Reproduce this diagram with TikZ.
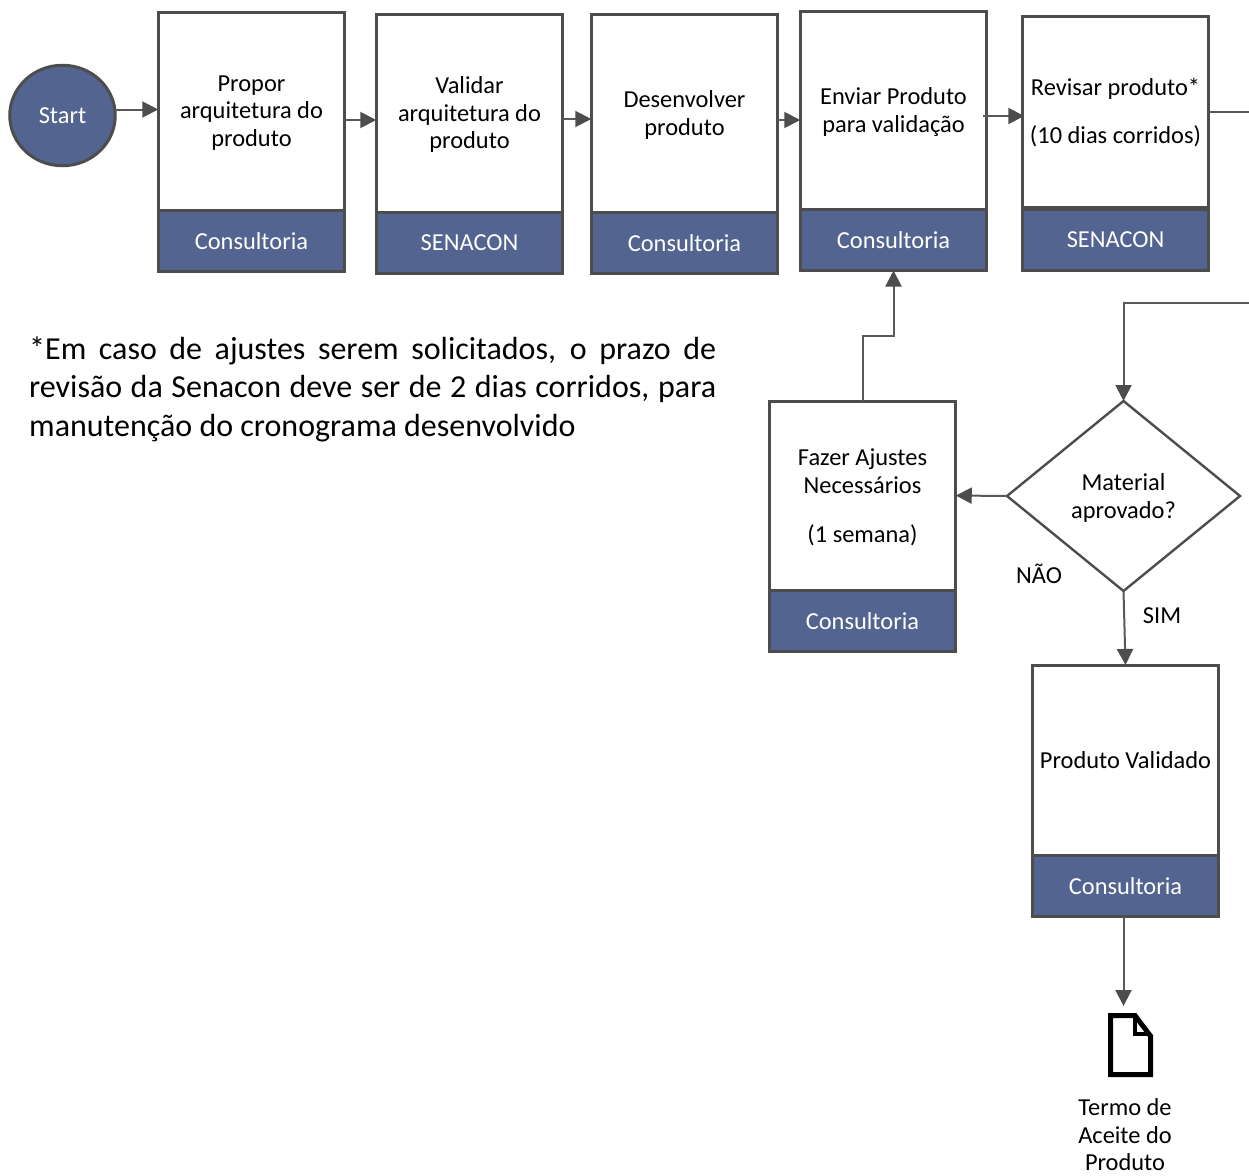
\documentclass[tikz,border=0pt]{standalone}
\usepackage{fontspec}
\setmainfont{Carlito}
\usetikzlibrary{shapes.geometric}
\usetikzlibrary{arrows.meta}
\usetikzlibrary{calc}
\definecolor{boxblue}{HTML}{546490}
\definecolor{boxline}{HTML}{4D4D4D}
\definecolor{connline}{HTML}{595959}
\tikzset{
  basefont/.style={font=\fontsize{24.4}{27.5}\selectfont},
  taskbox/.style={draw=boxline, line width=3pt, fill=white, minimum width=186.5pt, align=center, inner sep=0pt, outer sep=0pt, text depth=0pt, basefont},
  ownerbox/.style={draw=boxline, line width=3pt, fill=boxblue, text=white, minimum width=186.5pt, minimum height=61pt, inner sep=0pt, outer sep=0pt, basefont},
  conn/.style={draw=connline, line width=2pt, -{Triangle[length=16pt,width=16pt,color=boxline]}},
  plainconn/.style={draw=connline, line width=2pt},
  plain/.style={basefont, align=center, inner sep=0pt}
}
\begin{document}
\begin{tikzpicture}[x=1pt, y=-1pt]
    \useasboundingbox (0,0) rectangle (1249,1175);

    \node[ellipse, draw=boxline, line width=3pt, fill=boxblue, text=white, minimum width=105.5pt, minimum height=100.5pt, inner sep=0pt, outer sep=0pt, basefont] (start) at (62.5,115.5) {Start};

    % Top row
    \node[taskbox, minimum height=198pt] (propor) at (251.5,111) {Propor\\arquitetura do\\produto};
    \node[ownerbox] (proporowner) at (251.5,241) {Consultoria};
    \node[taskbox, minimum height=198pt] (validar) at (469.5,113) {Validar\\arquitetura do\\produto};
    \node[ownerbox] (validarowner) at (469.5,243) {SENACON};
    \node[taskbox, minimum height=198pt] (desenv) at (684.5,113) {Desenvolver\\produto};
    \node[ownerbox] (desenvowner) at (684.5,243) {Consultoria};
    \node[taskbox, minimum height=198pt] (enviar) at (893.5,110) {Enviar Produto\\para validação};
    \node[ownerbox] (enviarowner) at (893.5,240) {Consultoria};
    \node[taskbox, minimum height=191pt, text depth=2pt] (revisar) at (1115.5,111.5) {Revisar produto*\\[20.5pt](10 dias corridos)};
    \node[ownerbox] (revisarowner) at (1115.5,240) {SENACON};

    % Footnote
    \node[anchor=north west, text width=687pt, align=justify, inner sep=0pt, font=\fontsize{32}{38.5}\selectfont] (nota) at (29,336.5) {*Em caso de ajustes serem solicitados, o prazo de\linebreak revisão da Senacon deve ser de 2 dias corridos, para\linebreak manutenção do cronograma desenvolvido};

    % Decision
    \node[diamond, draw=boxline, line width=2.4pt, fill=white, aspect=1.22, minimum width=233pt, minimum height=190pt, inner sep=0pt, outer sep=0pt, align=center, text depth=0pt, basefont] (aprovado) at (1123.5,496) {Material\\aprovado?};
    \node[taskbox, minimum height=189pt] (ajustes) at (862.5,495.5) {Fazer Ajustes\\Necessários\\[21.5pt](1 semana)};
    \node[ownerbox] (ajustesowner) at (862.5,621) {Consultoria};
    \node[taskbox, minimum height=190pt] (validado) at (1125.5,760) {Produto Validado};
    \node[ownerbox] (validadoowner) at (1125.5,886) {Consultoria};

    \node[plain] (nao) at (1039,574) {NÃO};
    \node[plain] (sim) at (1162,616) {SIM};

    % Document icon
    \coordinate (doctop) at (1123.5,1006);
    \draw[line width=5pt, black, line join=miter] (1110.5,1015.5) -- (1135,1015.5) -- (1150.5,1036) -- (1150.5,1074.5) -- (1110.5,1074.5) -- cycle;
    \draw[line width=4pt, black] (1135,1015.5) -- (1135,1034) -- (1150.5,1034);
    \node[plain] (termo) at (1125,1135) {Termo de\\Aceite do\\Produto};

    % Connectors
    \coordinate (revisarout) at (1249,111.5);
    \coordinate (revisarin) at (1249,303);
    \draw[conn] ([yshift=6]start.east) -- ([yshift=6]start.east -| propor.west);
    \draw[conn] ([yshift=-9]propor.east) -- ([yshift=-9]propor.east -| validar.west);
    \draw[conn] ([yshift=-6]validar.east) -- ([yshift=-6]validar.east -| desenv.west);
    \draw[conn] ([yshift=-7]desenv.east) -- ([yshift=-7]desenv.east -| enviar.west);
    \draw[conn] ([xshift=-4,yshift=-6]enviar.east) -- ([xshift=2,yshift=-6]enviar.east -| revisar.west);
    \draw[plainconn] (revisar.east) -- (revisarout);
    \draw[conn] (revisarin) -| (aprovado.north);
    \draw[conn] (aprovado.west) -- (ajustes.east);
    \draw[conn] (ajustes.north) |- ($(ajustes.north)!0.5!(enviarowner.south)$) -| (enviarowner.south);
    \draw[conn] (aprovado.south) -- (validado.north);
    \draw[conn] ([xshift=-2]validadoowner.south) -- (doctop);
\end{tikzpicture}
\end{document}
